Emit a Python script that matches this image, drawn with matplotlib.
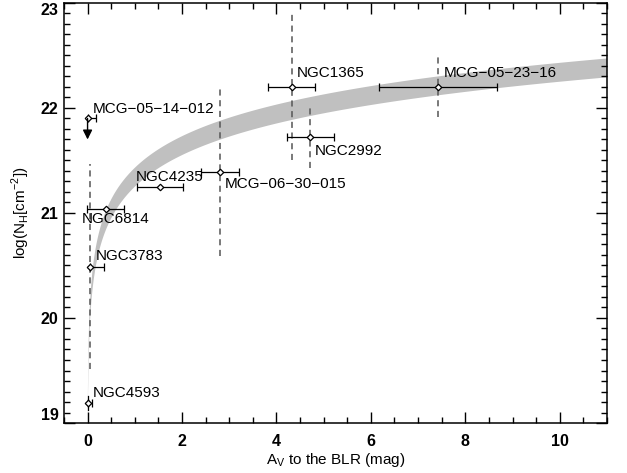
"""
N_H versus A_V towards the BLR, with the Galactic dust-to-gas band
"""
import numpy as np
import matplotlib
matplotlib.use('Agg')
import matplotlib.pyplot as plt
from matplotlib.ticker import MultipleLocator

plt.rcParams['font.family'] = ['Liberation Sans', 'DejaVu Sans']

# Data
names = ['MCG\u221205\u221214\u2212012', 'NGC6814', 'NGC3783', 'NGC4593', 'NGC4235',
         'MCG\u221206\u221230\u2212015', 'NGC1365', 'NGC2992', 'MCG\u221205\u221223\u221216']
av = [0.0, 0.38, 0.06, 0.0, 1.54, 2.81, 4.32, 4.72, 7.42]
av_lo = [0.0, 0.40, 0.0, 0.0, 0.49, 0.40, 0.50, 0.50, 1.25]
av_hi = [0.18, 0.40, 0.29, 0.09, 0.49, 0.40, 0.50, 0.50, 1.25]
lognh = [21.90, 21.04, 20.49, 19.19, 21.245, 21.39, 22.20, 21.72, 22.20]
# solid N_H error (only NGC4593) and dashed N_H ranges
nh_err = [0.0, 0.0, 0.0, 0.07, 0.0, 0.0, 0.0, 0.0, 0.0]
nh_range = [0.0, 0.0, 0.98, 0.0, 0.0, 0.80, 0.70, 0.29, 0.29]
upper_limit = [True, False, False, False, False, False, False, False, False]

# Dust-to-gas band: log N_H = log(k * A_V), k between these limits
log_k_low = 21.25
log_k_high = 21.43

# label offsets (points) relative to each point
label_dx = [3.4, -17.0, 3.6, 3.9, -17.3, 3.6, 3.4, 3.1, 3.9]
label_dy = [6.7, -7.2, 7.7, 7.2, 7.6, -8.4, 10.1, -9.6, 10.1]

fig = plt.figure(figsize=(6.27, 4.73), dpi=100)
ax = fig.add_axes([0.102, 0.1057, 0.866, 0.888])

# band
x_band = np.linspace(1e-4, 11, 2000)
ax.fill_between(x_band, log_k_low + np.log10(x_band), log_k_high + np.log10(x_band),
                color='#c0c0c0', lw=0, zorder=1)

# dashed N_H ranges
for x, y, r in zip(av, lognh, nh_range):
    if r > 0:
        ax.plot([x, x], [y - r, y + r], color='#555555', lw=1.1,
                ls=(0, (4, 3)), zorder=2)

# solid N_H errors, no caps
for x, y, e in zip(av, lognh, nh_err):
    if e > 0:
        ax.plot([x, x], [y - e, y + e], color='black', lw=0.9, zorder=2)

# points with A_V error bars
ax.errorbar(av, lognh, xerr=[av_lo, av_hi], fmt='D', ms=3.3,
            mfc='white', mec='black', mew=0.9, ecolor='black', elinewidth=0.9,
            capsize=3.2, capthick=0.9, zorder=3)

# upper limit arrow
for x, y, ul in zip(av, lognh, upper_limit):
    if ul:
        ax.annotate('', xy=(x, y - 0.2), xytext=(x, y),
                    arrowprops=dict(arrowstyle='-|>', color='black', lw=1,
                                    mutation_scale=14, shrinkA=0, shrinkB=0),
                    zorder=4)

# labels
for name, x, y, dx, dy in zip(names, av, lognh, label_dx, label_dy):
    ax.annotate(name, (x, y), xytext=(dx, dy), textcoords='offset points',
                ha='left', va='center', fontsize=11, zorder=5)

ax.set_xlim(-0.5, 11)
ax.set_ylim(19, 23)
ax.xaxis.set_major_locator(MultipleLocator(2))
ax.xaxis.set_minor_locator(MultipleLocator(0.5))
ax.yaxis.set_major_locator(MultipleLocator(1))
ax.yaxis.set_minor_locator(MultipleLocator(0.1))
ax.tick_params(which='both', direction='in', top=True, right=True, width=1)
ax.tick_params(which='major', length=8)
ax.tick_params(which='minor', length=4.5)
ax.tick_params(axis='x', pad=8)
ax.tick_params(axis='y', pad=4)
for sp in ax.spines.values():
    sp.set_linewidth(1.1)

ax.set_xlabel(r'A$_\mathregular{V}$ to the BLR (mag)', fontsize=11, labelpad=1)
ax.set_ylabel(r'log(N$_\mathregular{H}$[cm$^\mathregular{-2}$])', fontsize=11, labelpad=6)

fig.canvas.draw()
for lab in ax.get_xticklabels() + ax.get_yticklabels():
    lab.set_fontweight('bold')
    lab.set_fontsize(11.5)
# end labels on the y axis sit inside the frame, as in the original
for tick in ax.yaxis.get_major_ticks():
    if abs(tick.get_loc() - 19) < 1e-6:
        tick.label1.set_va('bottom')
    if abs(tick.get_loc() - 23) < 1e-6:
        tick.label1.set_va('top')

plt.savefig('out.png', dpi=100)
